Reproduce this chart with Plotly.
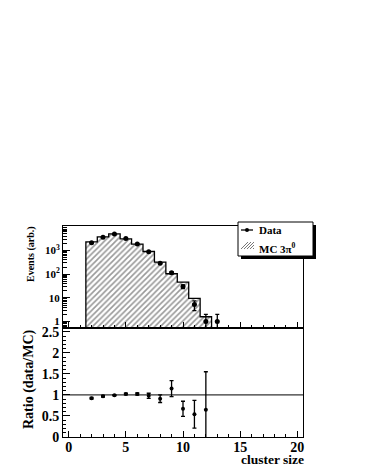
import plotly.graph_objects as go
from plotly.subplots import make_subplots

# dados
mc_bins = [2, 3, 4, 5, 6, 7, 8, 9, 10, 11, 12]
mc_vals = [2300, 3700, 5000, 3100, 1830, 900, 320, 104, 46, 9.5, 1.6]

data_x = [2, 3, 4, 5, 6, 7, 8, 9, 10, 11, 12, 13]
data_vals = [2100, 3600, 4900, 3150, 1870, 880, 290, 115, 30, 5.2, 1, 1]
data_err = [46, 60, 70, 56, 43, 30, 17, 11, 5.5, 2.3, 1, 1]
data_err_lo = [46, 60, 70, 56, 43, 30, 17, 11, 5.5, 2.3, 0.99, 0.99]

ratio_x = [2, 3, 4, 5, 6, 7, 8, 9, 10, 11, 12]
ratio_vals = [0.92, 0.97, 0.99, 1.02, 1.02, 0.98, 0.91, 1.15, 0.67, 0.54, 0.65]
ratio_err = [0.02, 0.02, 0.015, 0.02, 0.025, 0.06, 0.09, 0.19, 0.18, 0.33, 0.9]

# a página tem margem de 8px no body
O = 8
W, H = 366 - O, 473 - O
L, R, T, B = 63 - O, 63, 226 - O, 36
PW, PH = W - L - R, H - T - B

def px(x):
    return (x - O - L) / PW

def py(y):
    return (H - B - (y - O)) / PH

split = (437 - 328) / PH

FONT = 'Liberation Serif'

fig = make_subplots(rows=2, cols=1, shared_xaxes=False, vertical_spacing=0)

# histograma MC hachurado
fig.add_trace(go.Bar(
    x=mc_bins, y=mc_vals, width=1,
    marker=dict(color='white', line=dict(width=0),
                pattern=dict(shape='/', fgcolor='#333333', bgcolor='white',
                             size=4, solidity=0.4)),
    showlegend=False, hoverinfo='skip'
), row=1, col=1)

# contorno em degraus
edges = [b - 0.5 for b in mc_bins] + [mc_bins[-1] + 0.5]
step_x = [edges[0]] + edges + [edges[-1]]
step_y = [1e-3] + mc_vals + [mc_vals[-1], 1e-3]
fig.add_trace(go.Scatter(
    x=step_x, y=step_y, mode='lines', line=dict(color='black', width=1.3, shape='hv'),
    showlegend=False, hoverinfo='skip'
), row=1, col=1)

# dados
fig.add_trace(go.Scatter(
    x=data_x, y=data_vals, mode='markers',
    marker=dict(color='black', size=5),
    error_y=dict(type='data', array=data_err, arrayminus=data_err_lo,
                 color='black', thickness=1.3, width=2),
    showlegend=False
), row=1, col=1)

# razão
fig.add_trace(go.Scatter(
    x=ratio_x, y=ratio_vals, mode='markers',
    marker=dict(color='black', size=4),
    error_y=dict(type='data', array=ratio_err, color='black', thickness=1.3, width=2),
    showlegend=False
), row=2, col=1)

fig.add_hline(y=1, line=dict(color='black', width=1), row=2, col=1)

axis_common = dict(showline=True, linecolor='black', linewidth=1, mirror=True,
                   ticks='inside', tickcolor='black', showgrid=False, zeroline=False)

log_minor = [m * 10 ** e for e in range(-1, 4) for m in range(2, 10)]

fig.update_xaxes(range=[-0.5, 20.5], dtick=5, tick0=0, ticklen=6,
                 minor=dict(ticks='inside', dtick=1, ticklen=3, tickcolor='black'),
                 **axis_common)
fig.update_xaxes(showticklabels=False, row=1, col=1)
fig.update_xaxes(tickfont=dict(family=FONT, size=14, color='black', weight='bold'),
                 ticklabelstandoff=-3, row=2, col=1)

fig.update_yaxes(type='log', range=[-0.27, 4.03],
                 tickvals=[1, 10, 100, 1000],
                 ticktext=['1', '10', '10<sup>2</sup>', '10<sup>3</sup>'],
                 ticklen=7,
                 minor=dict(ticks='inside', tickvals=log_minor, ticklen=4, tickcolor='black'),
                 tickfont=dict(family=FONT, size=11, color='black', weight='bold'),
                 row=1, col=1, **axis_common)
fig.update_yaxes(range=[0, 2.59], dtick=0.5, tick0=0, ticklen=7,
                 minor=dict(ticks='inside', dtick=0.1, ticklen=3, tickcolor='black'),
                 tickfont=dict(family=FONT, size=14, color='black', weight='bold'),
                 row=2, col=1, **axis_common)

fig.update_layout(
    width=W, height=H,
    margin=dict(l=L, r=R, t=T, b=B),
    paper_bgcolor='white', plot_bgcolor='white',
    bargap=0, showlegend=False,
    yaxis=dict(domain=[split, 1]),
    yaxis2=dict(domain=[0, split]),
    font=dict(family=FONT, color='black'),
)

# títulos dos eixos
fig.add_annotation(text='<b>Events (arb.)</b>', xref='paper', yref='paper',
                   x=px(31), y=py(254), xanchor='center', yanchor='middle',
                   textangle=-90, showarrow=False,
                   font=dict(family=FONT, size=10, color='black'))
fig.add_annotation(text='<b>Ratio (data/MC)</b>', xref='paper', yref='paper',
                   x=px(29), y=py(380), xanchor='center', yanchor='middle',
                   textangle=-90, showarrow=False,
                   font=dict(family=FONT, size=14, color='black'))
fig.add_annotation(text='<b>cluster size</b>', xref='paper', yref='paper',
                   x=px(306), y=py(459), xanchor='right', yanchor='middle',
                   showarrow=False,
                   font=dict(family=FONT, size=13.5, color='black'))

# legenda estilo ROOT com sombra
fig.add_shape(type='rect', xref='paper', yref='paper',
              x0=px(241), x1=px(316), y0=py(259), y1=py(225),
              fillcolor='black', line=dict(width=0))
fig.add_shape(type='rect', xref='paper', yref='paper',
              x0=px(238), x1=px(313), y0=py(256), y1=py(222),
              fillcolor='white', line=dict(color='black', width=1))
fig.add_shape(type='line', xref='paper', yref='paper',
              x0=px(241), x1=px(253), y0=py(230), y1=py(230),
              line=dict(color='black', width=1.3))
fig.add_shape(type='circle', xref='paper', yref='paper',
              x0=px(245), x1=px(249), y0=py(232), y1=py(228),
              fillcolor='black', line=dict(color='black', width=0))
for k in range(5):
    x0 = 241 + 3 * k
    x1 = min(x0 + 7, 254)
    fig.add_shape(type='line', xref='paper', yref='paper',
                  x0=px(x0), x1=px(x1), y0=py(249), y1=py(249 - (x1 - x0)),
                  line=dict(color='#555555', width=0.8))
fig.add_annotation(text='<b>Data</b>', xref='paper', yref='paper',
                   x=px(257), y=py(230), xanchor='left', yanchor='middle',
                   showarrow=False,
                   font=dict(family=FONT, size=11, color='black'))
fig.add_annotation(text='<b>MC 3π<sup>0</sup></b>', xref='paper', yref='paper',
                   x=px(257), y=py(248), xanchor='left', yanchor='middle',
                   showarrow=False,
                   font=dict(family=FONT, size=11, color='black'))

fig.write_html("out.html")
